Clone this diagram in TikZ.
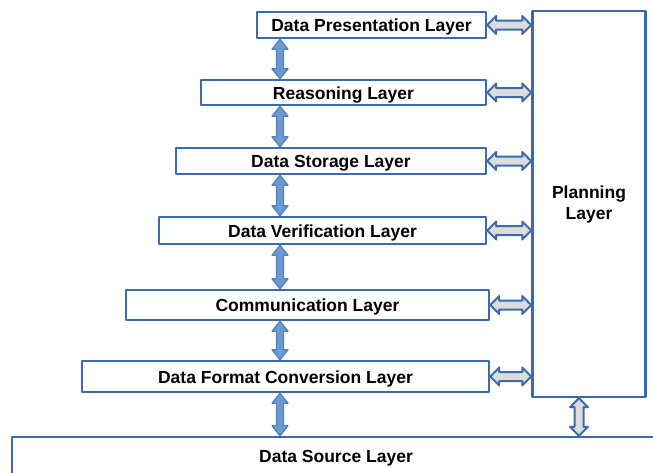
\documentclass[tikz,border=0pt]{standalone}
\usepackage{fontspec}
\setmainfont{Liberation Sans}
\usetikzlibrary{calc, positioning}
\definecolor{edge}{HTML}{3C6AAE}
\definecolor{vfill}{HTML}{6D9AD0}
\definecolor{vline}{HTML}{4F7FBD}
\definecolor{hfill}{HTML}{DCDCDC}
\tikzset{el/.style={line cap=round, line join=round}}

\begin{document}
\begin{tikzpicture}[el, x=1pt, y=-1pt,
     box/.style={draw=edge, line width=2.4pt, fill=white, inner sep=0pt,
        align=center, font=\fontsize{17.5}{21}\selectfont\bfseries},
     layer/.style={box, text height=13pt, text depth=0pt},
     dbl/.style n args={3}{to path={
        -- ($(\tikztostart)!#1!(\tikztotarget)!#2!90:(\tikztotarget)$)
        -- ($(\tikztostart)!#1!(\tikztotarget)!#3!90:(\tikztotarget)$)
        -- ($(\tikztotarget)!#1!(\tikztostart)!#3!-90:(\tikztostart)$)
        -- ($(\tikztotarget)!#1!(\tikztostart)!#2!-90:(\tikztostart)$)
        -- (\tikztotarget)
        -- ($(\tikztotarget)!#1!(\tikztostart)!#2!90:(\tikztostart)$)
        -- ($(\tikztotarget)!#1!(\tikztostart)!#3!90:(\tikztostart)$)
        -- ($(\tikztostart)!#1!(\tikztotarget)!#3!-90:(\tikztotarget)$)
        -- ($(\tikztostart)!#1!(\tikztotarget)!#2!-90:(\tikztotarget)$)
        -- cycle}},
     vlink/.style={dbl={10pt}{8pt}{3.5pt}, fill=vfill, draw=vline, line width=1.2pt},
     hlink/.style={dbl={9pt}{9pt}{4.5pt}, fill=hfill, draw=edge, line width=2pt}]
     \path[use as bounding box, clip] (0,0) rectangle (653,472);
     \node[layer, minimum width=229, minimum height=26] (pres) at (371.5,25) {Data Presentation Layer};
     \node[layer, minimum width=285, minimum height=25] (reas) at (343.5,92.5) {Reasoning Layer};
     \node[layer, minimum width=310, minimum height=26] (stor) at (331,161) {Data Storage Layer};
     \node[layer, minimum width=327, minimum height=27] (veri) at (322.5,230.5) {Data Verification Layer};
     \node[layer, minimum width=363, minimum height=30] (comm) at (307.5,305) {Communication Layer};
     \node[layer, minimum width=407, minimum height=31] (conv) at (285.5,376.5) {Data Format Conversion Layer};
     \node[layer, minimum width=648, minimum height=37] (src) at (336,455.5) {Data Source Layer};
     \node[box, minimum width=113, minimum height=386] (plan) at (589,204) {Planning\\Layer};
     \coordinate (ax) at (280,0);
     \coordinate (px) at (579,0);
     \foreach \a/\b in {pres/reas, reas/stor, stor/veri, veri/comm, comm/conv, conv/src}
        \draw[vlink] (ax |- \a.south) to (ax |- \b.north);
     \foreach \a in {pres, reas, stor, veri, comm, conv}
        \draw[hlink] (\a.east) to (plan.west |- \a.east);
     \draw[hlink] (px |- plan.south) to (px |- src.north);
\end{tikzpicture}
\end{document}
